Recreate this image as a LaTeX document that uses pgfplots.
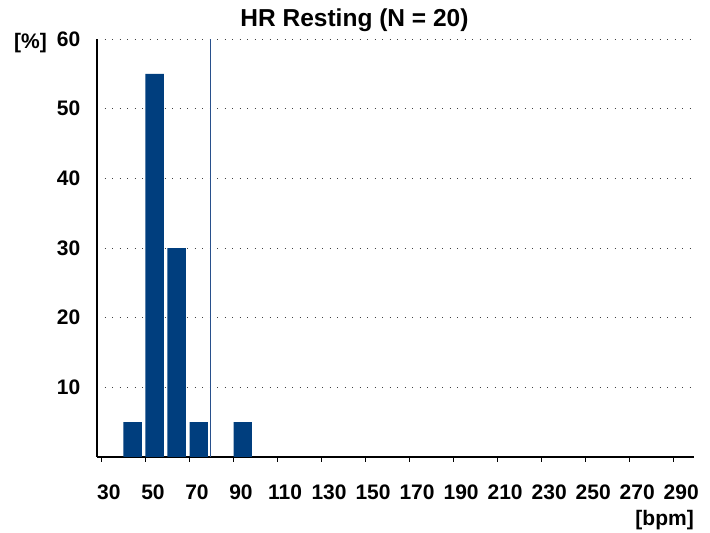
\documentclass[border=0pt]{standalone}
\usepackage{fontspec}
\setmainfont{Liberation Sans}
\usepackage{pgfplots}
\pgfplotsset{compat=1.18}
\definecolor{barblue}{RGB}{0,62,126}
\definecolor{lineblue}{RGB}{40,80,140}
\begin{document}
\begin{tikzpicture}
\path[use as bounding box] (0,0) rectangle (710pt,533pt);
\begin{axis}[
  at={(97pt,76pt)}, anchor=south west,
  scale only axis, width=597pt, height=418pt,
  xmin=28, xmax=299.2, ymin=0, ymax=60,
  axis x line*=bottom, axis y line*=left,
  axis line style={line width=1.2pt, black},
  xtick={30,50,...,290}, ytick={10,20,...,60},
  tick align=outside, major tick length=5pt,
  xtick style={line width=1.2pt, black},
  ytick style={draw=none},
  ymajorgrids,
  grid style={black!75, line width=1pt, dash pattern=on 1pt off 6.5pt},
  /pgf/number format/assume math mode=true,
  tick label style={font=\fontsize{21}{24}\selectfont\bfseries},
  yticklabel style={anchor=east, inner sep=0pt, xshift=-11.5pt},
  xticklabel style={anchor=base, inner sep=0pt, yshift=-43pt+5pt, xshift=7.5pt},
  title={HR Resting (N = 20)},
  title style={at={(axis description cs:0.4313,1.0144)}, anchor=base, inner sep=0pt, font=\fontsize{24.5}{28}\selectfont\bfseries},
  clip=false,
]
\addplot[ybar, bar width=8.35, bar shift=4.2, fill=barblue, draw=none]
  coordinates {(40,5) (50,55) (60,30) (70,5) (90,5)};
\addplot[lineblue, line width=1pt] coordinates {(79.7,0) (79.7,60)};
\end{axis}
\node[anchor=base west, inner sep=0pt, font=\fontsize{21}{24}\selectfont\bfseries] at (14pt,484pt) {[\%]};
\node[anchor=base east, inner sep=0pt, font=\fontsize{21}{24}\selectfont\bfseries] at (694pt,7pt) {[bpm]};
\end{tikzpicture}
\end{document}
